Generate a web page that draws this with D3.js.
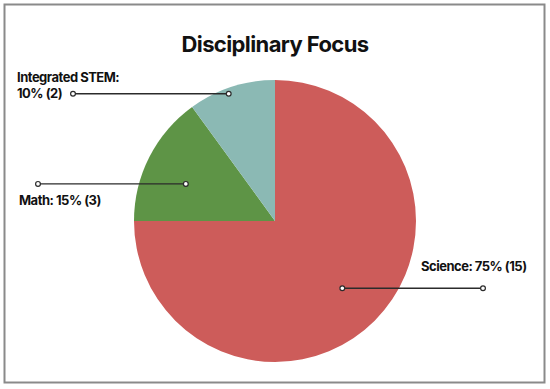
<!DOCTYPE html>
<html>
<head>
<meta charset="utf-8">
<script src="https://cdn.jsdelivr.net/npm/d3@7"></script>
<style>
  body { margin: 0; background: #fff; }
  svg text { font-family: "Inter", "Open Sans", sans-serif; fill: #111; }
</style>
</head>
<body>
<div id="chart"></div>
<script>
// data
var categories = ["Science", "Math", "Integrated STEM"];
var counts = [15, 3, 2];
var colors = ["#cd5c5a", "#5e9446", "#8bb9b4"];

var width = 550,
    height = 389;

var cx = 275, cy = 221, radius = 141;

var svg = d3.select("#chart")
    .append("svg")
    .attr("width", width)
    .attr("height", height);

// frame
svg.append("rect")
    .attr("x", 4.5)
    .attr("y", 4.5)
    .attr("width", 540)
    .attr("height", 378)
    .style("fill", "#fff")
    .style("stroke", "#8a8a8a")
    .style("stroke-width", 2);

svg.append("text")
    .attr("x", cx)
    .attr("y", 52)
    .attr("text-anchor", "middle")
    .style("font-size", "22px")
    .style("font-weight", 700)
    .style("letter-spacing", "-0.6px")
    .text("Disciplinary Focus");

var total = d3.sum(counts);
var rows = categories.map(function(c, i) { return {name: c, value: counts[i], color: colors[i]}; });

var pie = d3.pie()
    .value(function(d) { return d.value; })
    .sort(null);

var arc = d3.arc().innerRadius(0).outerRadius(radius);

var g = svg.append("g").attr("transform", "translate(" + cx + "," + cy + ")");

var arcs = pie(rows);

g.selectAll("path")
    .data(arcs)
    .enter()
    .append("path")
    .attr("d", arc)
    .style("fill", function(d) { return d.data.color; });

// callouts: where the leader starts inside the slice and where it ends
var leader = [
  {frac: 0.675, turn: 0,    endX: 483, textX: 421, side: "right"},
  {frac: 0.685, turn: -4.4, endX: 38,  textX: 19,  side: "below"},
  {frac: 0.96,  turn: -2,   endX: 73,  textX: 17,  side: "left"}
];

arcs.forEach(function(a, i) {
  var L = leader[i];
  var ang = (a.startAngle + a.endAngle) / 2 + L.turn * Math.PI / 180;
  var px = cx + Math.sin(ang) * radius * L.frac,
      py = cy - Math.cos(ang) * radius * L.frac;
  var pct = Math.round(a.data.value / total * 100);

  svg.append("line")
      .attr("x1", px).attr("y1", py)
      .attr("x2", L.endX).attr("y2", py)
      .style("stroke", "#2b2b2b")
      .style("stroke-width", 1.4);

  [px, L.endX].forEach(function(x) {
    svg.append("circle")
        .attr("cx", x).attr("cy", py).attr("r", 2.4)
        .style("fill", "#fff")
        .style("stroke", "#2b2b2b")
        .style("stroke-width", 1.2);
  });

  var t = svg.append("text")
      .attr("x", L.textX)
      .style("font-size", "13px")
      .style("font-weight", 700)
      .style("letter-spacing", "-0.5px");

  if (L.side == "right") {
    t.attr("y", py - 17).text(a.data.name + ": " + pct + "% (" + a.data.value + ")");
  } else if (L.side == "below") {
    t.attr("y", py + 21).text(a.data.name + ": " + pct + "% (" + a.data.value + ")");
  } else {
    t.append("tspan").attr("x", L.textX).attr("y", py - 12).text(a.data.name + ":");
    t.append("tspan").attr("x", L.textX).attr("y", py + 4).text(pct + "% (" + a.data.value + ")");
  }
});
</script>
</body>
</html>
